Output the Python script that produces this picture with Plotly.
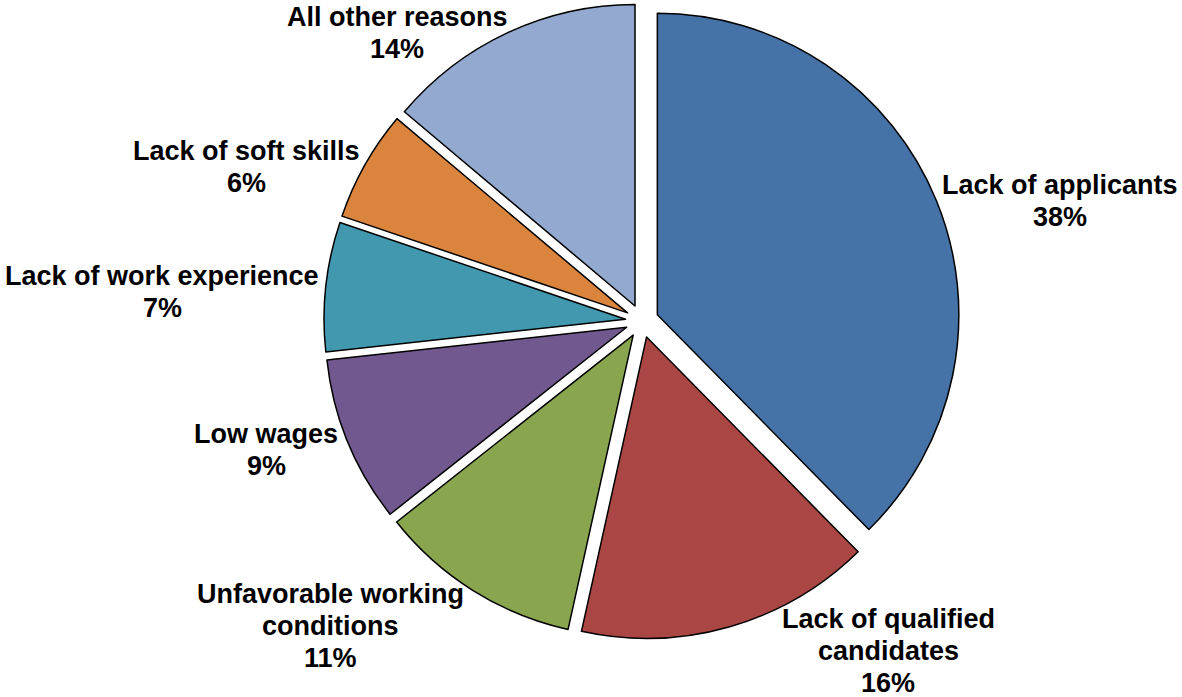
import plotly.graph_objects as go

labels = ["Lack of applicants", "Lack of qualified<br>candidates",
          "Unfavorable working<br>conditions", "Low wages",
          "Lack of work experience", "Lack of soft skills", "All other reasons"]
values = [38, 16, 11, 9, 7, 6, 14]
colors = ["#4572A7", "#AA4643", "#89A54E", "#71588F", "#4198AF", "#DB843D", "#93A9CF"]

# label block centres in pixels (layout only)
label_px = [(1060, 201), (888, 651), (330, 626), (266, 450), (162, 292), (246, 167), (397, 33)]
line_gap = 32

W, H = 1182, 697
cx, cy = 642, 321
r_px, pull = 301.5, 0.055
half = r_px * (1 + pull)

total = sum(values)
fig = go.Figure(go.Pie(
    labels=labels, values=values, sort=False, direction="clockwise", rotation=0,
    marker=dict(colors=colors, line=dict(color="black", width=1.5)),
    pull=[pull] * len(values),
    textinfo="none",
    hoverinfo="skip",
    showlegend=False,
    domain=dict(x=[(cx - half) / W, (cx + half) / W],
                y=[max(0, (H - cy - half) / H), min(1, (H - cy + half) / H)]),
))
for lab, v, (px, py) in zip(labels, values, label_px):
    lines = lab.split("<br>") + ["%d%%" % round(100 * v / total)]
    n = len(lines)
    for i, ln in enumerate(lines):
        ly = py + (i - (n - 1) / 2) * line_gap
        fig.add_annotation(
            x=px / W, y=1 - ly / H, xref="paper", yref="paper",
            text="<b>%s</b>" % ln,
            showarrow=False, xanchor="center", yanchor="middle", align="center",
            font=dict(family="Liberation Sans, Arial, sans-serif", size=27, color="black"),
        )
fig.update_layout(
    width=W, height=H, margin=dict(l=0, r=0, t=0, b=0),
    paper_bgcolor="white", plot_bgcolor="white",
)
fig.write_html("out.html", config={"displayModeBar": False},
               post_script="document.body.style.margin='0';")
